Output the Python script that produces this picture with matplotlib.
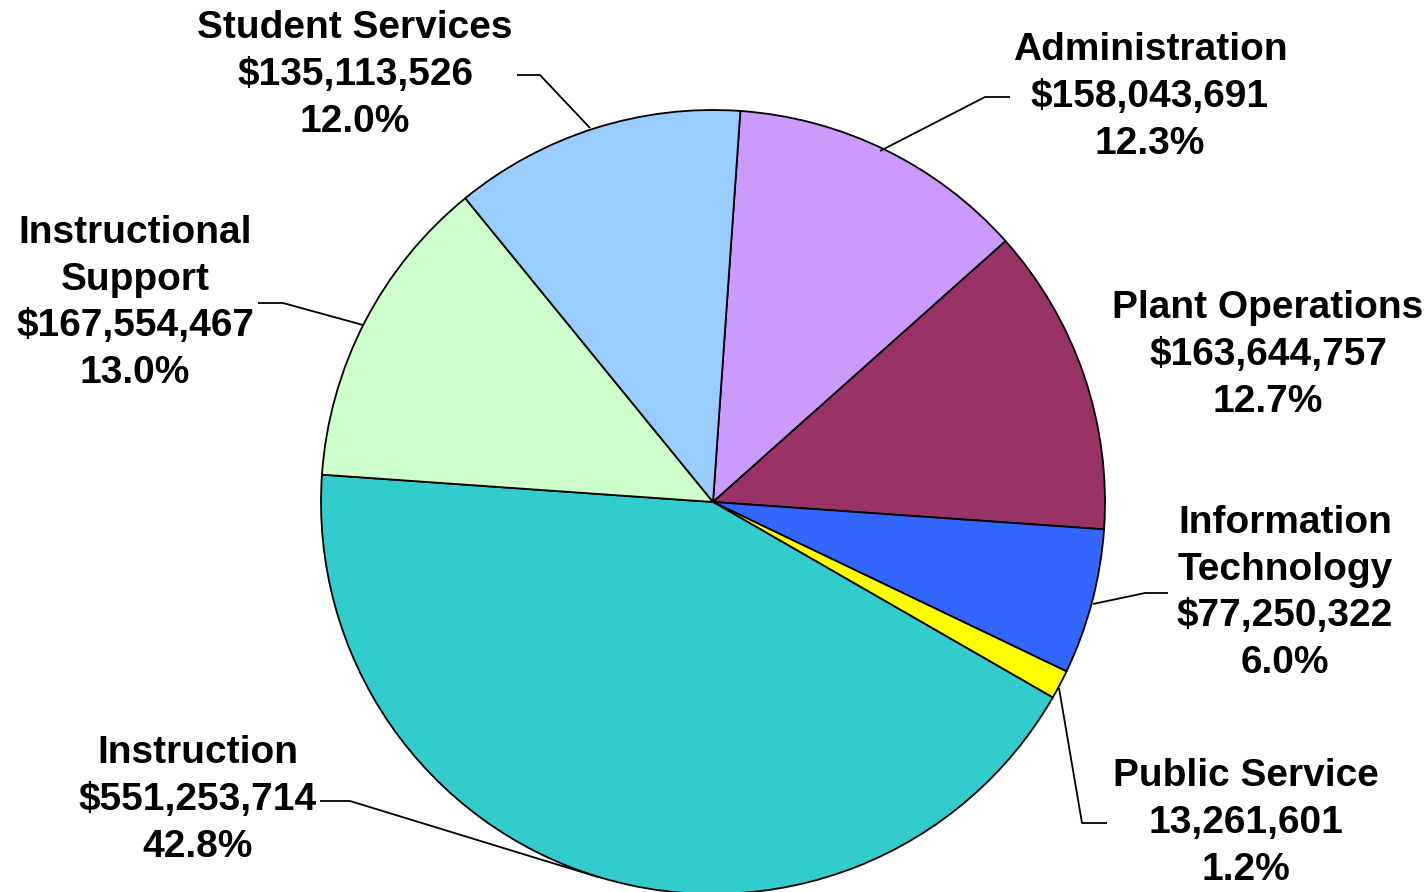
import matplotlib.pyplot as plt

# slices clockwise from the top
categories = ["Administration", "Plant Operations", "Information\nTechnology",
              "Public Service", "Instruction", "Instructional\nSupport",
              "Student Services"]
amounts = ["$158,043,691", "$163,644,757", "$77,250,322", "13,261,601",
           "$551,253,714", "$167,554,467", "$135,113,526"]
percents = [12.3, 12.7, 6.0, 1.2, 42.8, 13.0, 12.0]
colors = ["#CC99FF", "#993366", "#3366FF", "#FFFF00",
          "#33CCCC", "#CCFFCC", "#99CCFF"]

W, H = 1427, 892
fig = plt.figure(figsize=(W / 100, H / 100), dpi=100)
ax = fig.add_axes([0, 0, 1, 1])

cx, cy, r = 713, H - 502, 392
ax.pie(percents, colors=colors, startangle=86, counterclock=False,
       center=(cx, cy), radius=r, frame=True,
       wedgeprops=dict(edgecolor="black", linewidth=1.3))
ax.set_xlim(0, W)
ax.set_ylim(0, H)
ax.axis("off")

# label centres (pixel, from top) and leader lines
label_pos = [(1150, 97), (1268, 355), (1285, 593), (1246, 823),
             (198, 800), (135, 303), (355, 75)]
leaders = [
    [(1010, 97), (985, 97), (880, 151)],
    None,
    [(1168, 593), (1145, 593), (1093, 604)],
    [(1107, 823), (1082, 823), (1059, 688)],
    [(320, 801), (350, 801), (598, 877)],
    [(258, 303), (283, 303), (363, 325)],
    [(517, 75), (540, 75), (590, 128)],
]

for cat, amt, pct, (lx, ly), ld in zip(categories, amounts, percents,
                                        label_pos, leaders):
    txt = f"{cat}\n{amt}\n{pct:.1f}%"
    ax.text(lx, H - ly, txt, ha="center", va="center", fontsize=28,
            fontweight="bold", family="Liberation Sans", linespacing=1.38,
            multialignment="center")
    if ld:
        ax.plot([p[0] for p in ld], [H - p[1] for p in ld], color="black",
                linewidth=1.3, solid_capstyle="butt")

fig.savefig("out.png", dpi=100)
